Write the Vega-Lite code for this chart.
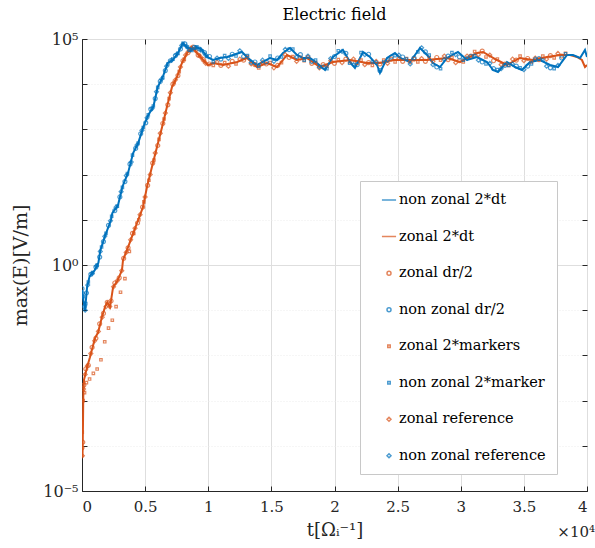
{
"$schema": "https://vega.github.io/schema/vega-lite/v6.json",
"width": 505, "height": 452,
"autosize": "none",
"padding": {"left": 82, "top": 39, "right": 8, "bottom": 57},
"background": "white",
"config": {"font": "DejaVu Serif", "view": {"stroke": "black", "strokeWidth": 1}},
"title": {"text": "Electric field", "fontSize": 16, "fontWeight": "normal", "font": "DejaVu Serif", "color": "black", "offset": 8},
"datasets": {
"lines": [
{"s":"zonal 2*dt","t":0,"E":0.000093},{"s":"zonal 2*dt","t":40,"E":0.000056},{"s":"zonal 2*dt","t":80,"E":0.00032},{"s":"zonal 2*dt","t":100,"E":0.0012},{"s":"zonal 2*dt","t":160,"E":0.0029},{"s":"zonal 2*dt","t":400,"E":0.0055},{"s":"zonal 2*dt","t":630,"E":0.0091},{"s":"zonal 2*dt","t":1030,"E":0.024},{"s":"zonal 2*dt","t":1270,"E":0.032},{"s":"zonal 2*dt","t":1580,"E":0.071},{"s":"zonal 2*dt","t":1820,"E":0.117},{"s":"zonal 2*dt","t":2000,"E":0.15},{"s":"zonal 2*dt","t":2220,"E":0.117},{"s":"zonal 2*dt","t":2460,"E":0.32},{"s":"zonal 2*dt","t":2850,"E":0.47},{"s":"zonal 2*dt","t":3170,"E":0.78},{"s":"zonal 2*dt","t":3250,"E":1.29},{"s":"zonal 2*dt","t":3560,"E":2.14},{"s":"zonal 2*dt","t":3950,"E":4.2},{"s":"zonal 2*dt","t":4360,"E":8.5},{"s":"zonal 2*dt","t":4830,"E":19},{"s":"zonal 2*dt","t":5150,"E":54},{"s":"zonal 2*dt","t":5540,"E":148},{"s":"zonal 2*dt","t":5940,"E":407},{"s":"zonal 2*dt","t":6340,"E":1120},{"s":"zonal 2*dt","t":6730,"E":3160},{"s":"zonal 2*dt","t":7130,"E":8700},{"s":"zonal 2*dt","t":7530,"E":14450},{"s":"zonal 2*dt","t":7920,"E":29500},{"s":"zonal 2*dt","t":8320,"E":49000},{"s":"zonal 2*dt","t":8710,"E":66000},{"s":"zonal 2*dt","t":9110,"E":49000},{"s":"zonal 2*dt","t":9580,"E":34700},{"s":"zonal 2*dt","t":9980,"E":26300},{"s":"zonal 2*dt","t":10380,"E":29400},{"s":"zonal 2*dt","t":11170,"E":26600},{"s":"zonal 2*dt","t":12280,"E":31000},{"s":"zonal 2*dt","t":13070,"E":38000},{"s":"zonal 2*dt","t":13860,"E":24000},{"s":"zonal 2*dt","t":14650,"E":29400},{"s":"zonal 2*dt","t":15450,"E":24000},{"s":"zonal 2*dt","t":16240,"E":44300},{"s":"zonal 2*dt","t":17030,"E":34300},{"s":"zonal 2*dt","t":17820,"E":38000},{"s":"zonal 2*dt","t":18850,"E":24000},{"s":"zonal 2*dt","t":19880,"E":31000},{"s":"zonal 2*dt","t":21230,"E":34300},{"s":"zonal 2*dt","t":22570,"E":29400},{"s":"zonal 2*dt","t":23600,"E":29400},{"s":"zonal 2*dt","t":24630,"E":34300},{"s":"zonal 2*dt","t":25980,"E":34300},{"s":"zonal 2*dt","t":27330,"E":34300},{"s":"zonal 2*dt","t":28910,"E":38000},{"s":"zonal 2*dt","t":29940,"E":31000},{"s":"zonal 2*dt","t":31290,"E":49000},{"s":"zonal 2*dt","t":31760,"E":51600},{"s":"zonal 2*dt","t":32870,"E":34300},{"s":"zonal 2*dt","t":33660,"E":26600},{"s":"zonal 2*dt","t":34690,"E":38000},{"s":"zonal 2*dt","t":35720,"E":34300},{"s":"zonal 2*dt","t":36830,"E":40000},{"s":"zonal 2*dt","t":37860,"E":44300},{"s":"zonal 2*dt","t":38660,"E":44300},{"s":"zonal 2*dt","t":39210,"E":40000},{"s":"zonal 2*dt","t":39600,"E":34300},{"s":"zonal 2*dt","t":39840,"E":24000},{"s":"zonal 2*dt","t":40000,"E":26600},
{"s":"non zonal 2*dt","t":0,"E":0.28},{"s":"non zonal 2*dt","t":120,"E":0.16},{"s":"non zonal 2*dt","t":240,"E":0.1},{"s":"non zonal 2*dt","t":400,"E":0.32},{"s":"non zonal 2*dt","t":600,"E":0.56},{"s":"non zonal 2*dt","t":1000,"E":0.76},{"s":"non zonal 2*dt","t":1300,"E":1.12},{"s":"non zonal 2*dt","t":1450,"E":2.1},{"s":"non zonal 2*dt","t":1800,"E":4.2},{"s":"non zonal 2*dt","t":2300,"E":10},{"s":"non zonal 2*dt","t":2400,"E":14},{"s":"non zonal 2*dt","t":2850,"E":21},{"s":"non zonal 2*dt","t":3200,"E":54},{"s":"non zonal 2*dt","t":3650,"E":110},{"s":"non zonal 2*dt","t":4050,"E":300},{"s":"non zonal 2*dt","t":4450,"E":500},{"s":"non zonal 2*dt","t":4850,"E":1120},{"s":"non zonal 2*dt","t":5250,"E":2090},{"s":"non zonal 2*dt","t":5650,"E":3160},{"s":"non zonal 2*dt","t":6000,"E":8700},{"s":"non zonal 2*dt","t":6400,"E":14500},{"s":"non zonal 2*dt","t":6800,"E":29500},{"s":"non zonal 2*dt","t":7200,"E":34700},{"s":"non zonal 2*dt","t":7600,"E":49000},{"s":"non zonal 2*dt","t":8000,"E":81000},{"s":"non zonal 2*dt","t":8300,"E":66000},{"s":"non zonal 2*dt","t":8700,"E":57500},{"s":"non zonal 2*dt","t":9100,"E":66000},{"s":"non zonal 2*dt","t":9500,"E":57500},{"s":"non zonal 2*dt","t":9900,"E":40000},{"s":"non zonal 2*dt","t":10380,"E":34300},{"s":"non zonal 2*dt","t":10930,"E":38000},{"s":"non zonal 2*dt","t":11490,"E":40000},{"s":"non zonal 2*dt","t":11960,"E":44300},{"s":"non zonal 2*dt","t":12670,"E":51600},{"s":"non zonal 2*dt","t":13150,"E":38000},{"s":"non zonal 2*dt","t":13860,"E":26600},{"s":"non zonal 2*dt","t":14340,"E":31000},{"s":"non zonal 2*dt","t":14890,"E":38000},{"s":"non zonal 2*dt","t":15450,"E":34300},{"s":"non zonal 2*dt","t":15920,"E":49000},{"s":"non zonal 2*dt","t":16480,"E":63200},{"s":"non zonal 2*dt","t":17030,"E":44300},{"s":"non zonal 2*dt","t":17500,"E":38000},{"s":"non zonal 2*dt","t":18060,"E":38000},{"s":"non zonal 2*dt","t":18610,"E":29400},{"s":"non zonal 2*dt","t":19250,"E":20600},{"s":"non zonal 2*dt","t":19880,"E":40000},{"s":"non zonal 2*dt","t":20670,"E":57100},{"s":"non zonal 2*dt","t":21230,"E":31000},{"s":"non zonal 2*dt","t":21620,"E":22800},{"s":"non zonal 2*dt","t":22260,"E":51600},{"s":"non zonal 2*dt","t":22810,"E":40000},{"s":"non zonal 2*dt","t":23370,"E":26600},{"s":"non zonal 2*dt","t":23600,"E":17700},{"s":"non zonal 2*dt","t":24160,"E":38000},{"s":"non zonal 2*dt","t":24790,"E":49000},{"s":"non zonal 2*dt","t":25190,"E":38000},{"s":"non zonal 2*dt","t":25980,"E":31000},{"s":"non zonal 2*dt","t":26770,"E":63200},{"s":"non zonal 2*dt","t":27330,"E":44300},{"s":"non zonal 2*dt","t":27800,"E":29400},{"s":"non zonal 2*dt","t":28360,"E":24000},{"s":"non zonal 2*dt","t":28910,"E":38000},{"s":"non zonal 2*dt","t":29780,"E":51600},{"s":"non zonal 2*dt","t":30500,"E":34300},{"s":"non zonal 2*dt","t":31290,"E":40000},{"s":"non zonal 2*dt","t":32080,"E":31000},{"s":"non zonal 2*dt","t":32560,"E":20600},{"s":"non zonal 2*dt","t":32950,"E":18600},{"s":"non zonal 2*dt","t":33660,"E":31000},{"s":"non zonal 2*dt","t":34300,"E":24000},{"s":"non zonal 2*dt","t":34850,"E":20600},{"s":"non zonal 2*dt","t":35490,"E":31000},{"s":"non zonal 2*dt","t":36280,"E":34300},{"s":"non zonal 2*dt","t":37070,"E":26600},{"s":"non zonal 2*dt","t":37700,"E":24000},{"s":"non zonal 2*dt","t":38420,"E":44300},{"s":"non zonal 2*dt","t":38890,"E":44300},{"s":"non zonal 2*dt","t":39450,"E":38000},{"s":"non zonal 2*dt","t":39840,"E":57100},{"s":"non zonal 2*dt","t":40000,"E":40000}
],
"pts": [
{"s":"zonal dr/2","t":0,"E":0.00009},{"s":"zonal dr/2","t":60,"E":0.00012},{"s":"zonal dr/2","t":150,"E":0.0022},{"s":"zonal dr/2","t":300,"E":0.005},{"s":"zonal dr/2","t":500,"E":0.006},{"s":"zonal dr/2","t":800,"E":0.015},{"s":"zonal dr/2","t":1100,"E":0.024},{"s":"zonal dr/2","t":1400,"E":0.05},{"s":"zonal dr/2","t":1700,"E":0.085},{"s":"zonal dr/2","t":2000,"E":0.15},{"s":"zonal dr/2","t":2300,"E":0.16},{"s":"zonal dr/2","t":2600,"E":0.4},{"s":"zonal dr/2","t":2950,"E":0.52},{"s":"zonal dr/2","t":3300,"E":1.4},{"s":"zonal dr/2","t":3650,"E":2.4},{"s":"zonal dr/2","t":4000,"E":5},{"s":"zonal dr/2","t":4400,"E":8.5},{"s":"zonal dr/2","t":4800,"E":19},{"s":"zonal dr/2","t":5200,"E":58},{"s":"zonal dr/2","t":5600,"E":180},{"s":"zonal dr/2","t":6000,"E":440},{"s":"zonal dr/2","t":6400,"E":1350},{"s":"zonal dr/2","t":6800,"E":3500},{"s":"zonal dr/2","t":7200,"E":10000},{"s":"zonal dr/2","t":7600,"E":15500},{"s":"zonal dr/2","t":8000,"E":33000},{"s":"zonal dr/2","t":8400,"E":50000},{"s":"zonal dr/2","t":8800,"E":66000},{"s":"zonal dr/2","t":9200,"E":44000},{"s":"zonal dr/2","t":9600,"E":35000},
{"s":"zonal dr/2","t":10100,"E":28000},{"s":"zonal dr/2","t":11000,"E":26000},{"s":"zonal dr/2","t":11900,"E":32000},{"s":"zonal dr/2","t":12800,"E":34000},{"s":"zonal dr/2","t":13700,"E":27000},{"s":"zonal dr/2","t":14600,"E":28000},{"s":"zonal dr/2","t":15500,"E":26000},{"s":"zonal dr/2","t":16400,"E":39000},{"s":"zonal dr/2","t":17300,"E":38000},{"s":"zonal dr/2","t":18200,"E":29000},{"s":"zonal dr/2","t":19100,"E":27000},{"s":"zonal dr/2","t":20000,"E":29000},{"s":"zonal dr/2","t":20900,"E":36000},{"s":"zonal dr/2","t":21800,"E":30000},{"s":"zonal dr/2","t":22700,"E":30000},{"s":"zonal dr/2","t":23600,"E":28000},{"s":"zonal dr/2","t":24500,"E":36000},{"s":"zonal dr/2","t":25400,"E":32000},{"s":"zonal dr/2","t":26300,"E":36000},{"s":"zonal dr/2","t":27200,"E":32000},{"s":"zonal dr/2","t":28100,"E":39000},{"s":"zonal dr/2","t":29000,"E":35000},{"s":"zonal dr/2","t":29900,"E":33000},{"s":"zonal dr/2","t":30800,"E":42000},{"s":"zonal dr/2","t":31700,"E":54000},{"s":"zonal dr/2","t":32600,"E":33000},{"s":"zonal dr/2","t":33500,"E":28000},{"s":"zonal dr/2","t":34400,"E":34000},{"s":"zonal dr/2","t":35300,"E":37000},{"s":"zonal dr/2","t":36200,"E":35000},{"s":"zonal dr/2","t":37100,"E":43000},{"s":"zonal dr/2","t":38000,"E":42000},
{"s":"zonal 2*markers","t":20,"E":0.0002},{"s":"zonal 2*markers","t":90,"E":0.001},{"s":"zonal 2*markers","t":200,"E":0.0015},{"s":"zonal 2*markers","t":350,"E":0.0025},{"s":"zonal 2*markers","t":600,"E":0.003},{"s":"zonal 2*markers","t":900,"E":0.004},{"s":"zonal 2*markers","t":1200,"E":0.005},{"s":"zonal 2*markers","t":1500,"E":0.008},{"s":"zonal 2*markers","t":1800,"E":0.02},{"s":"zonal 2*markers","t":2100,"E":0.04},{"s":"zonal 2*markers","t":2400,"E":0.06},{"s":"zonal 2*markers","t":2700,"E":0.12},{"s":"zonal 2*markers","t":3050,"E":0.25},{"s":"zonal 2*markers","t":3400,"E":0.5},{"s":"zonal 2*markers","t":3750,"E":2.0},{"s":"zonal 2*markers","t":4100,"E":5},{"s":"zonal 2*markers","t":4500,"E":10},{"s":"zonal 2*markers","t":4900,"E":25},{"s":"zonal 2*markers","t":5300,"E":75},{"s":"zonal 2*markers","t":5700,"E":210},{"s":"zonal 2*markers","t":6100,"E":600},{"s":"zonal 2*markers","t":6500,"E":1700},{"s":"zonal 2*markers","t":6900,"E":4800},{"s":"zonal 2*markers","t":7300,"E":11000},{"s":"zonal 2*markers","t":7700,"E":19000},{"s":"zonal 2*markers","t":8100,"E":36000},{"s":"zonal 2*markers","t":8500,"E":55000},{"s":"zonal 2*markers","t":8900,"E":60000},{"s":"zonal 2*markers","t":9300,"E":43000},{"s":"zonal 2*markers","t":9700,"E":32000},
{"s":"zonal 2*markers","t":10400,"E":26000},{"s":"zonal 2*markers","t":11300,"E":30000},{"s":"zonal 2*markers","t":12200,"E":28000},{"s":"zonal 2*markers","t":13100,"E":41000},{"s":"zonal 2*markers","t":14000,"E":23000},{"s":"zonal 2*markers","t":14900,"E":30000},{"s":"zonal 2*markers","t":15800,"E":30000},{"s":"zonal 2*markers","t":16700,"E":41000},{"s":"zonal 2*markers","t":17600,"E":33000},{"s":"zonal 2*markers","t":18500,"E":30000},{"s":"zonal 2*markers","t":19400,"E":25000},{"s":"zonal 2*markers","t":20300,"E":35000},{"s":"zonal 2*markers","t":21200,"E":31000},{"s":"zonal 2*markers","t":22100,"E":34000},{"s":"zonal 2*markers","t":23000,"E":26000},{"s":"zonal 2*markers","t":23900,"E":34000},{"s":"zonal 2*markers","t":24800,"E":31000},{"s":"zonal 2*markers","t":25700,"E":37000},{"s":"zonal 2*markers","t":26600,"E":31000},{"s":"zonal 2*markers","t":27500,"E":39000},{"s":"zonal 2*markers","t":28400,"E":34000},{"s":"zonal 2*markers","t":29300,"E":39000},{"s":"zonal 2*markers","t":30200,"E":31000},{"s":"zonal 2*markers","t":31100,"E":53000},{"s":"zonal 2*markers","t":32000,"E":40000},{"s":"zonal 2*markers","t":32900,"E":36000},{"s":"zonal 2*markers","t":33800,"E":26000},{"s":"zonal 2*markers","t":34700,"E":42000},{"s":"zonal 2*markers","t":35600,"E":31000},{"s":"zonal 2*markers","t":36500,"E":42000},{"s":"zonal 2*markers","t":37400,"E":38000},{"s":"zonal 2*markers","t":38300,"E":48000},
{"s":"zonal reference","t":30,"E":0.00006},{"s":"zonal reference","t":120,"E":0.0018},{"s":"zonal reference","t":250,"E":0.0038},{"s":"zonal reference","t":420,"E":0.0058},{"s":"zonal reference","t":700,"E":0.011},{"s":"zonal reference","t":1000,"E":0.021},{"s":"zonal reference","t":1300,"E":0.034},{"s":"zonal reference","t":1600,"E":0.07},{"s":"zonal reference","t":1900,"E":0.12},{"s":"zonal reference","t":2200,"E":0.12},{"s":"zonal reference","t":2500,"E":0.33},{"s":"zonal reference","t":2800,"E":0.45},{"s":"zonal reference","t":3150,"E":0.75},{"s":"zonal reference","t":3500,"E":1.9},{"s":"zonal reference","t":3850,"E":3.6},{"s":"zonal reference","t":4200,"E":6.5},{"s":"zonal reference","t":4600,"E":13},{"s":"zonal reference","t":5000,"E":32},{"s":"zonal reference","t":5400,"E":100},{"s":"zonal reference","t":5800,"E":300},{"s":"zonal reference","t":6200,"E":820},{"s":"zonal reference","t":6600,"E":2300},{"s":"zonal reference","t":7000,"E":6500},{"s":"zonal reference","t":7400,"E":12500},{"s":"zonal reference","t":7800,"E":24000},{"s":"zonal reference","t":8200,"E":44000},{"s":"zonal reference","t":8600,"E":62000},{"s":"zonal reference","t":9000,"E":55000},{"s":"zonal reference","t":9400,"E":40000},{"s":"zonal reference","t":9800,"E":29000},
{"s":"zonal reference","t":10700,"E":31000},{"s":"zonal reference","t":11600,"E":25000},{"s":"zonal reference","t":12500,"E":36000},{"s":"zonal reference","t":13400,"E":28000},{"s":"zonal reference","t":14300,"E":30000},{"s":"zonal reference","t":15200,"E":23000},{"s":"zonal reference","t":16100,"E":45000},{"s":"zonal reference","t":17000,"E":32000},{"s":"zonal reference","t":17900,"E":40000},{"s":"zonal reference","t":18800,"E":23000},{"s":"zonal reference","t":19700,"E":33000},{"s":"zonal reference","t":20600,"E":30000},{"s":"zonal reference","t":21500,"E":36000},{"s":"zonal reference","t":22400,"E":27000},{"s":"zonal reference","t":23300,"E":32000},{"s":"zonal reference","t":24200,"E":29000},{"s":"zonal reference","t":25100,"E":37000},{"s":"zonal reference","t":26000,"E":31000},{"s":"zonal reference","t":26900,"E":37000},{"s":"zonal reference","t":27800,"E":32000},{"s":"zonal reference","t":28700,"E":42000},{"s":"zonal reference","t":29600,"E":30000},{"s":"zonal reference","t":30500,"E":42000},{"s":"zonal reference","t":31400,"E":45000},{"s":"zonal reference","t":32300,"E":44000},{"s":"zonal reference","t":33200,"E":27000},{"s":"zonal reference","t":34100,"E":36000},{"s":"zonal reference","t":35000,"E":33000},{"s":"zonal reference","t":35900,"E":38000},{"s":"zonal reference","t":36800,"E":36000},{"s":"zonal reference","t":37700,"E":48000},
{"s":"non zonal dr/2","t":0,"E":0.3},{"s":"non zonal dr/2","t":200,"E":0.12},{"s":"non zonal dr/2","t":350,"E":0.24},{"s":"non zonal dr/2","t":700,"E":0.62},{"s":"non zonal dr/2","t":1100,"E":0.9},{"s":"non zonal dr/2","t":1400,"E":1.5},{"s":"non zonal dr/2","t":1700,"E":3.3},{"s":"non zonal dr/2","t":2100,"E":7.5},{"s":"non zonal dr/2","t":2600,"E":16},{"s":"non zonal dr/2","t":3000,"E":32},{"s":"non zonal dr/2","t":3400,"E":70},{"s":"non zonal dr/2","t":3800,"E":170},{"s":"non zonal dr/2","t":4250,"E":380},{"s":"non zonal dr/2","t":4650,"E":800},{"s":"non zonal dr/2","t":5050,"E":1400},{"s":"non zonal dr/2","t":5450,"E":2800},{"s":"non zonal dr/2","t":5800,"E":4800},{"s":"non zonal dr/2","t":6200,"E":11500},{"s":"non zonal dr/2","t":6600,"E":20000},{"s":"non zonal dr/2","t":7000,"E":33000},{"s":"non zonal dr/2","t":7400,"E":43000},{"s":"non zonal dr/2","t":7800,"E":60000},{"s":"non zonal dr/2","t":8150,"E":78000},{"s":"non zonal dr/2","t":8500,"E":58000},{"s":"non zonal dr/2","t":8900,"E":65000},{"s":"non zonal dr/2","t":9300,"E":60000},{"s":"non zonal dr/2","t":9700,"E":50000},
{"s":"non zonal dr/2","t":10100,"E":41000},{"s":"non zonal dr/2","t":11000,"E":36000},{"s":"non zonal dr/2","t":11900,"E":46000},{"s":"non zonal dr/2","t":12800,"E":41000},{"s":"non zonal dr/2","t":13700,"E":31000},{"s":"non zonal dr/2","t":14600,"E":31000},{"s":"non zonal dr/2","t":15500,"E":38000},{"s":"non zonal dr/2","t":16400,"E":58000},{"s":"non zonal dr/2","t":17300,"E":45000},{"s":"non zonal dr/2","t":18200,"E":32000},{"s":"non zonal dr/2","t":19100,"E":24000},{"s":"non zonal dr/2","t":20000,"E":41000},{"s":"non zonal dr/2","t":20900,"E":48000},{"s":"non zonal dr/2","t":21800,"E":27000},{"s":"non zonal dr/2","t":22700,"E":46000},{"s":"non zonal dr/2","t":23600,"E":20000},{"s":"non zonal dr/2","t":24500,"E":40000},{"s":"non zonal dr/2","t":25400,"E":40000},{"s":"non zonal dr/2","t":26300,"E":38000},{"s":"non zonal dr/2","t":27200,"E":52000},{"s":"non zonal dr/2","t":28100,"E":24000},{"s":"non zonal dr/2","t":29000,"E":42000},{"s":"non zonal dr/2","t":29900,"E":40000},{"s":"non zonal dr/2","t":30800,"E":41000},{"s":"non zonal dr/2","t":31700,"E":31000},{"s":"non zonal dr/2","t":32600,"E":22000},{"s":"non zonal dr/2","t":33500,"E":26000},{"s":"non zonal dr/2","t":34400,"E":25000},{"s":"non zonal dr/2","t":35300,"E":25000},{"s":"non zonal dr/2","t":36200,"E":37000},{"s":"non zonal dr/2","t":37100,"E":23000},{"s":"non zonal dr/2","t":38000,"E":38000},
{"s":"non zonal 2*marker","t":100,"E":0.2},{"s":"non zonal 2*marker","t":300,"E":0.14},{"s":"non zonal 2*marker","t":500,"E":0.42},{"s":"non zonal 2*marker","t":850,"E":0.68},{"s":"non zonal 2*marker","t":1200,"E":1.0},{"s":"non zonal 2*marker","t":1550,"E":2.5},{"s":"non zonal 2*marker","t":1900,"E":5},{"s":"non zonal 2*marker","t":2350,"E":12},{"s":"non zonal 2*marker","t":2800,"E":20},{"s":"non zonal 2*marker","t":3200,"E":52},{"s":"non zonal 2*marker","t":3600,"E":105},{"s":"non zonal 2*marker","t":4000,"E":270},{"s":"non zonal 2*marker","t":4450,"E":500},{"s":"non zonal 2*marker","t":4850,"E":1100},{"s":"non zonal 2*marker","t":5250,"E":2100},{"s":"non zonal 2*marker","t":5650,"E":3300},{"s":"non zonal 2*marker","t":6000,"E":8500},{"s":"non zonal 2*marker","t":6400,"E":14000},{"s":"non zonal 2*marker","t":6800,"E":28000},{"s":"non zonal 2*marker","t":7200,"E":36000},{"s":"non zonal 2*marker","t":7600,"E":48000},{"s":"non zonal 2*marker","t":8000,"E":80000},{"s":"non zonal 2*marker","t":8350,"E":66000},{"s":"non zonal 2*marker","t":8700,"E":56000},{"s":"non zonal 2*marker","t":9100,"E":67000},{"s":"non zonal 2*marker","t":9500,"E":55000},{"s":"non zonal 2*marker","t":9900,"E":41000},
{"s":"non zonal 2*marker","t":10400,"E":31000},{"s":"non zonal 2*marker","t":11300,"E":43000},{"s":"non zonal 2*marker","t":12200,"E":42000},{"s":"non zonal 2*marker","t":13100,"E":43000},{"s":"non zonal 2*marker","t":14000,"E":25000},{"s":"non zonal 2*marker","t":14900,"E":42000},{"s":"non zonal 2*marker","t":15800,"E":40000},{"s":"non zonal 2*marker","t":16700,"E":60000},{"s":"non zonal 2*marker","t":17600,"E":34000},{"s":"non zonal 2*marker","t":18500,"E":34000},{"s":"non zonal 2*marker","t":19400,"E":22000},{"s":"non zonal 2*marker","t":20300,"E":55000},{"s":"non zonal 2*marker","t":21200,"E":29000},{"s":"non zonal 2*marker","t":22100,"E":50000},{"s":"non zonal 2*marker","t":23000,"E":31000},{"s":"non zonal 2*marker","t":23900,"E":31000},{"s":"non zonal 2*marker","t":24800,"E":43000},{"s":"non zonal 2*marker","t":25700,"E":36000},{"s":"non zonal 2*marker","t":26600,"E":52000},{"s":"non zonal 2*marker","t":27500,"E":44000},{"s":"non zonal 2*marker","t":28400,"E":22000},{"s":"non zonal 2*marker","t":29300,"E":50000},{"s":"non zonal 2*marker","t":30200,"E":34000},{"s":"non zonal 2*marker","t":31100,"E":43000},{"s":"non zonal 2*marker","t":32000,"E":28000},{"s":"non zonal 2*marker","t":32900,"E":21000},{"s":"non zonal 2*marker","t":33800,"E":26000},{"s":"non zonal 2*marker","t":34700,"E":23000},{"s":"non zonal 2*marker","t":35600,"E":28000},{"s":"non zonal 2*marker","t":36500,"E":34000},{"s":"non zonal 2*marker","t":37400,"E":22000},{"s":"non zonal 2*marker","t":38300,"E":47000},
{"s":"non zonal reference","t":50,"E":0.24},{"s":"non zonal reference","t":250,"E":0.1},{"s":"non zonal reference","t":450,"E":0.36},{"s":"non zonal reference","t":800,"E":0.65},{"s":"non zonal reference","t":1150,"E":0.95},{"s":"non zonal reference","t":1450,"E":2.0},{"s":"non zonal reference","t":1800,"E":4.3},{"s":"non zonal reference","t":2250,"E":9.5},{"s":"non zonal reference","t":2700,"E":19},{"s":"non zonal reference","t":3100,"E":42},{"s":"non zonal reference","t":3500,"E":95},{"s":"non zonal reference","t":3900,"E":190},{"s":"non zonal reference","t":4350,"E":450},{"s":"non zonal reference","t":4750,"E":950},{"s":"non zonal reference","t":5150,"E":1800},{"s":"non zonal reference","t":5550,"E":2900},{"s":"non zonal reference","t":5900,"E":6800},{"s":"non zonal reference","t":6300,"E":13000},{"s":"non zonal reference","t":6700,"E":25000},{"s":"non zonal reference","t":7100,"E":34000},{"s":"non zonal reference","t":7500,"E":46000},{"s":"non zonal reference","t":7900,"E":72000},{"s":"non zonal reference","t":8250,"E":70000},{"s":"non zonal reference","t":8600,"E":58000},{"s":"non zonal reference","t":9000,"E":64000},{"s":"non zonal reference","t":9400,"E":58000},{"s":"non zonal reference","t":9800,"E":44000},
{"s":"non zonal reference","t":10700,"E":38000},{"s":"non zonal reference","t":11600,"E":37000},{"s":"non zonal reference","t":12500,"E":55000},{"s":"non zonal reference","t":13400,"E":30000},{"s":"non zonal reference","t":14300,"E":34000},{"s":"non zonal reference","t":15200,"E":32000},{"s":"non zonal reference","t":16100,"E":59000},{"s":"non zonal reference","t":17000,"E":40000},{"s":"non zonal reference","t":17900,"E":42000},{"s":"non zonal reference","t":18800,"E":24000},{"s":"non zonal reference","t":19700,"E":37000},{"s":"non zonal reference","t":20600,"E":53000},{"s":"non zonal reference","t":21500,"E":27000},{"s":"non zonal reference","t":22400,"E":45000},{"s":"non zonal reference","t":23300,"E":30000},{"s":"non zonal reference","t":24200,"E":34000},{"s":"non zonal reference","t":25100,"E":44000},{"s":"non zonal reference","t":26000,"E":28000},{"s":"non zonal reference","t":26900,"E":64000},{"s":"non zonal reference","t":27800,"E":27000},{"s":"non zonal reference","t":28700,"E":35000},{"s":"non zonal reference","t":29600,"E":45000},{"s":"non zonal reference","t":30500,"E":37000},{"s":"non zonal reference","t":31400,"E":34000},{"s":"non zonal reference","t":32300,"E":29000},{"s":"non zonal reference","t":33200,"E":22000},{"s":"non zonal reference","t":34100,"E":28000},{"s":"non zonal reference","t":35000,"E":21000},{"s":"non zonal reference","t":35900,"E":36000},{"s":"non zonal reference","t":36800,"E":25000},{"s":"non zonal reference","t":37700,"E":26000}
]
},
"layer": [
{
"data": {"name": "lines"},
"mark": {"type": "line", "strokeWidth": 2, "clip": true},
"encoding": {
"x": {"field": "t", "type": "quantitative", "scale": {"domain": [0, 40000], "nice": false, "zero": false},
 "axis": {"orient": "bottom", "values": [0,5000,10000,15000,20000,25000,30000,35000,40000], "labelExpr": "datum.value/10000", "labelFontSize": 15, "labelFont": "DejaVu Serif", "labelColor": "#262626", "labelPadding": 13, "tickSize": -5, "tickColor": "#262626", "domainColor": "#262626", "grid": true, "gridColor": "#dedede", "title": "t[Ωᵢ⁻¹]", "titleFontSize": 18, "titleFont": "DejaVu Serif", "titleFontWeight": "normal", "titleColor": "#262626", "titlePadding": 7}},
"y": {"field": "E", "type": "quantitative", "scale": {"type": "log", "domain": [0.00001, 100000], "nice": false},
 "axis": {"orient": "left", "values": [0.00001,0.0001,0.001,0.01,0.1,1,10,100,1000,10000,100000], "labelExpr": "datum.value > 99999 ? '10⁵' : (datum.value > 0.99 && datum.value < 1.01) ? '10⁰' : datum.value < 0.0000101 ? '10⁻⁵' : ''", "labelFontSize": 16, "labelFont": "DejaVu Serif", "labelColor": "#262626", "labelPadding": 9, "tickSize": -5, "tickColor": "#262626", "domainColor": "#262626", "grid": true,
  "gridColor": {"condition": {"test": "datum.value > 99999 || (datum.value > 0.99 && datum.value < 1.01) || datum.value < 0.0000101", "value": "#dedede"}, "value": "#ececec"},
  "gridDash": {"condition": {"test": "datum.value > 99999 || (datum.value > 0.99 && datum.value < 1.01) || datum.value < 0.0000101", "value": []}, "value": [1, 2]},
  "title": "max(E)[V/m]", "titleFontSize": 19, "titleFont": "DejaVu Serif", "titleFontWeight": "normal", "titleColor": "#262626", "titlePadding": 12}},
"color": {"field": "s", "type": "nominal",
 "scale": {"domain": ["non zonal 2*dt","zonal 2*dt","zonal dr/2","non zonal dr/2","zonal 2*markers","non zonal 2*marker","zonal reference","non zonal reference"], "range": ["#0072BD","#D95319","#D95319","#0072BD","#D95319","#0072BD","#D95319","#0072BD"]},
 "legend": {"title": null, "orient": "none", "legendX": 278, "legendY": 142, "fillColor": "white", "strokeColor": "#c8c8c8", "padding": 11, "labelFontSize": 14.5, "labelFont": "DejaVu Serif", "labelColor": "black", "rowPadding": 21.5, "labelOffset": 2, "symbolOffset": 10, "symbolStrokeWidth": 1.5, "labelLimit": 300}}
}
},
{
"data": {"name": "pts"},
"mark": {"type": "point", "filled": false, "strokeWidth": 1.2, "clip": true},
"encoding": {
"x": {"field": "t", "type": "quantitative", "axis": {"orient": "top", "values": [0,5000,10000,15000,20000,25000,30000,35000,40000], "labels": false, "grid": false, "domain": false, "tickSize": -5, "tickColor": "#262626", "title": null}},
"y": {"field": "E", "type": "quantitative", "axis": {"orient": "right", "values": [0.00001,0.0001,0.001,0.01,0.1,1,10,100,1000,10000,100000], "labels": false, "grid": false, "domain": false, "tickSize": -5, "tickColor": "#262626", "title": null}},
"color": {"field": "s", "type": "nominal"},
"shape": {"field": "s", "type": "nominal", "scale": {"domain": ["non zonal 2*dt","zonal 2*dt","zonal dr/2","non zonal dr/2","zonal 2*markers","non zonal 2*marker","zonal reference","non zonal reference"], "range": ["stroke","stroke","circle","circle","square","square","diamond","diamond"]}},
"size": {"field": "s", "type": "nominal", "scale": {"type": "ordinal", "domain": ["non zonal 2*dt","zonal 2*dt","zonal dr/2","non zonal dr/2","zonal 2*markers","non zonal 2*marker","zonal reference","non zonal reference"], "range": [200,200,16,16,6,6,16,16]}}
}
},
{
"data": {"values": [{"label": "×10⁴"}]},
"mark": {"type": "text", "align": "right", "baseline": "alphabetic", "dx": 8, "dy": 46, "fontSize": 15, "font": "DejaVu Serif", "color": "#262626"},
"encoding": {
"x": {"datum": 40000, "type": "quantitative", "axis": null},
"y": {"datum": 0.00001, "type": "quantitative", "axis": null},
"text": {"field": "label"}
}
}
],
"resolve": {"axis": {"x": "independent", "y": "independent"}}
}
